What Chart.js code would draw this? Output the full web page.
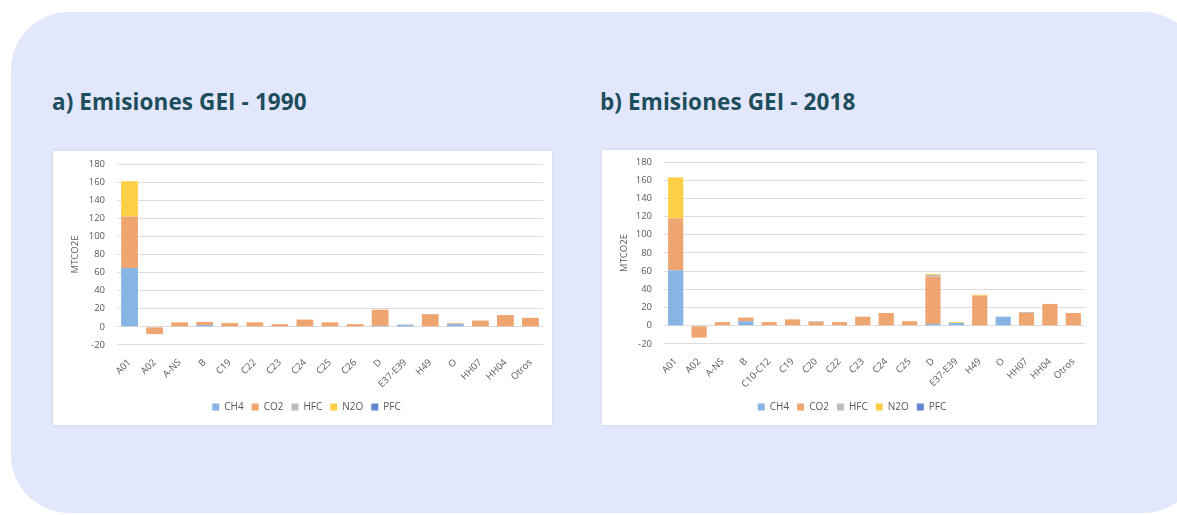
<!DOCTYPE html>
<html>
<head>
<meta charset="utf-8">
<script src="https://cdn.jsdelivr.net/npm/chart.js@4.4.0/dist/chart.umd.min.js"></script>
<style>
  html, body { margin: 0; padding: 0; background: #fff; width: 1177px; height: 515px; overflow: hidden; }
  .panel { position: absolute; left: 11px; top: 12px; width: 1190px; height: 501px; background: #e2e7fc; border-radius: 58px; }
  .title { position: absolute; font-family: "Open Sans", sans-serif; font-weight: 700; font-size: 22.5px; color: #1e4d5c; letter-spacing: 0.1px; }
  .card { position: absolute; background: #fff; box-shadow: 0 0 2px rgba(0,0,0,0.12); }
</style>
</head>
<body>
<div class="panel"></div>
<div class="title" style="left:52px; top:86px;">a) Emisiones GEI - 1990</div>
<div class="title" style="left:600px; top:86px;">b) Emisiones GEI - 2018</div>
<div class="card" style="left:53px; top:151px; width:499px; height:274px;"><canvas id="c1990" width="499" height="274"></canvas></div>
<div class="card" style="left:602px; top:150px; width:495px; height:275px;"><canvas id="c2018" width="495" height="275"></canvas></div>
<script>
// 1990
const cats1990 = ['A01', 'A02', 'A-NS', 'B', 'C19', 'C22', 'C23', 'C24', 'C25', 'C26', 'D', 'E37-E39', 'H49', 'O', 'HH07', 'HH04', 'Otros'];
const ch4_1990 = [65, 0, 0, 2, 0, 0, 0, 0, 0, 0, 1, 2, 0, 3, 0, 0, 0];
const co2_1990 = [57, -8, 5, 3.5, 4, 5, 3, 8, 5, 3, 18, 0, 14, 1, 7, 13, 10];
const hfc_1990 = [0, 0, 0, 0, 0, 0, 0, 0, 0, 0, 0, 0.5, 0, 0, 0, 0, 0];
const n2o_1990 = [39, 0, 0, 0, 0.5, 0, 0, 0, 0, 0, 0, 0, 0, 0, 0, 0, 0];
const pfc_1990 = [0, 0, 0, 0, 0, 0, 0, 0, 0, 0, 0, 0, 0, 0, 0, 0, 0];

// 2018
const cats2018 = ['A01', 'A02', 'A-NS', 'B', 'C10-C12', 'C19', 'C20', 'C22', 'C23', 'C24', 'C25', 'D', 'E37-E39', 'H49', 'O', 'HH07', 'HH04', 'Otros'];
const ch4_2018 = [61, 0, 0, 5, 0, 0, 0, 0, 0, 0, 0, 2, 3, 0, 10, 0, 0, 0];
const co2_2018 = [57, -13, 4, 4, 4, 7, 4, 4, 10, 14, 5, 52, 0, 33, 0, 14, 24, 14];
const hfc_2018 = [0, 0, 0, 0, 0, 0, 1, 0, 0, 0, 0, 2, 0, 0, 0, 1, 0, 0];
const n2o_2018 = [45, 0, 0, 0, 0, 0, 0, 0, 0, 0, 0, 1, 1, 1, 0, 0, 0, 0];
const pfc_2018 = [0, 0, 0, 0, 0, 0, 0, 0, 0, 0, 0, 0, 0, 0, 0, 0, 0, 0];

const yMin = -20, yMax = 180, yStep = 20;

const colors = { CH4: '#86b4e3', CO2: '#efa56f', HFC: '#bdbdbd', N2O: '#ffcf45', PFC: '#5f86cf' };
const font = { family: '"Open Sans", sans-serif', size: 9.5 };
const legendFont = { family: '"Open Sans", sans-serif', size: 10 };
const textColor = '#595959';

function buildChart(id, labels, series, axisW, pad, barPct) {
  const names = ['CH4', 'CO2', 'HFC', 'N2O', 'PFC'];
  return new Chart(document.getElementById(id), {
    type: 'bar',
    data: {
      labels: labels,
      datasets: names.map((n, i) => ({
        label: n,
        data: series[i],
        backgroundColor: colors[n],
        borderWidth: 0,
        categoryPercentage: 1,
        barPercentage: barPct
      }))
    },
    options: {
      responsive: false,
      animation: false,
      layout: { padding: pad },
      scales: {
        x: {
          stacked: true,
          grid: { display: false },
          border: { display: false },
          ticks: { font: font, color: textColor, minRotation: 45, maxRotation: 45, autoSkip: false, padding: 4 }
        },
        y: {
          stacked: true,
          min: yMin,
          max: yMax,
          // fixed width; tick padding shouldn't push the plot top down
          afterFit: s => { s.width = axisW; s.paddingTop = 6; s.paddingBottom = 6; },
          grid: { color: '#dcdcdc', drawTicks: false },
          border: { display: false },
          ticks: { stepSize: yStep, font: font, color: textColor, padding: 12 },
          title: { display: true, text: 'MTCO2E', font: font, color: textColor, padding: 0 }
        }
      },
      plugins: {
        legend: {
          position: 'bottom',
          labels: { boxWidth: 7, boxHeight: 7, font: legendFont, color: textColor, padding: 8 }
        },
        tooltip: { enabled: false }
      }
    }
  });
}

buildChart('c1990', cats1990, [ch4_1990, co2_1990, hfc_1990, n2o_1990, pfc_1990], 47, { top: 13, right: 9, left: 17, bottom: 3 }, 0.67);
buildChart('c2018', cats2018, [ch4_2018, co2_2018, hfc_2018, n2o_2018, pfc_2018], 45, { top: 12, right: 12, left: 17, bottom: 3 }, 0.65);
</script>
</body>
</html>
